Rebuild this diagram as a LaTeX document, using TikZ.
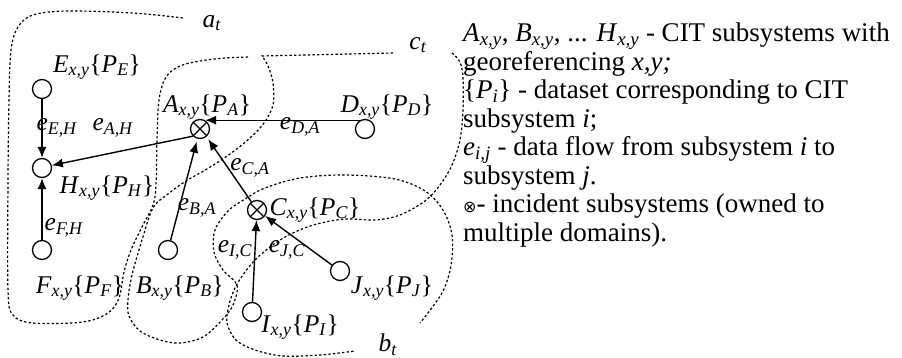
\documentclass[tikz,border=0pt]{standalone}
\usepackage{fontspec}
\setmainfont{Liberation Serif}
\newfontfamily\symbfont{DejaVu Sans}
\usetikzlibrary{arrows.meta}
\tikzset{
  subsys/.style={draw, circle, minimum size=19pt, inner sep=0pt, line width=1.3pt},
  incident/.style={subsys, path picture={
      \draw[line width=1.3pt] (path picture bounding box.north west) -- (path picture bounding box.south east)
                              (path picture bounding box.north east) -- (path picture bounding box.south west);}},
  flow/.style={-{Latex[length=11pt, width=9pt]}, line width=1.4pt},
  domline/.style={line width=1.2pt, dash pattern=on 2.4pt off 2.2pt},
  lbl/.style={inner sep=0pt, font=\fontsize{25.5}{30}\selectfont}
}
\newcommand{\sysname}[1]{\textit{#1}\textsubscript{\textit{x,y}}\{\textit{P}\textsubscript{\textit{#1}}\}}
\newcommand{\flowname}[1]{\textit{e}\textsubscript{\textit{#1}}}

\begin{document}
\begin{tikzpicture}[x=1pt, y=-1pt]
        \useasboundingbox (0,0) rectangle (902,358);

        % Domains
        \draw[domline] plot[smooth, tension=0.55] coordinates {(183,18) (133,13) (67,11) (33,15) (18,27) (11,50) (9,100) (8,180) (8,290) (13,315) (33,323) (83,322) (108,313) (119,298) (124,272) (131,250) (143,225) (153,205) (156,185) (157,140) (159,100) (166,77) (180,66) (200,61) (225,58) (250,57)};
        \draw[domline] (393,53) -- (262,56) -- plot[smooth, tension=0.55] coordinates {(262,56) (268,66) (273,83) (273,105) (264,123) (250,138) (230,154) (207,169) (186,181) (168,194) (153,208) (142,240) (132,275) (128,300) (129,316) (140,331) (160,340) (180,343) (203,337) (222,320) (233,305) (237,285) (223,270) (214,252) (215,230) (228,211) (245,199) (265,188) (300,178) (345,175) (395,179) (425,191) (443,210) (452,235) (451,265) (442,293) (420,323)};
        \draw[domline] plot[smooth, tension=0.55] coordinates {(452,53) (460,62) (463,78) (463,110) (460,140) (452,165) (440,185) (425,201) (400,215) (375,220) (345,219) (317,224) (295,232) (277,242) (258,257) (245,272) (235,288) (229,305) (227,323) (236,340) (255,350) (283,356) (320,355) (355,351)};
        \node[lbl] (at) at (212,23) {\textit{a}\textsubscript{\textit{t}}};
        \node[lbl] (ct) at (418,45) {\textit{c}\textsubscript{\textit{t}}};
        \node[lbl] (bt) at (388,345) {\textit{b}\textsubscript{\textit{t}}};

        % Subsystems
        \node[subsys]   (E) at (42,89)   {};
        \node[subsys]   (H) at (42,168)  {};
        \node[subsys]   (F) at (42,250)  {};
        \node[incident] (A) at (200,129) {};
        \node[subsys]   (D) at (365,129) {};
        \node[subsys]   (B) at (168,250) {};
        \node[incident] (C) at (257,210) {};
        \node[subsys]   (I) at (252,312) {};
        \node[subsys]   (J) at (340,271) {};

        \node[lbl] (Elbl) at (97,67)   {\sysname{E}};
        \node[lbl] (Hlbl) at (107,188) {\sysname{H}};
        \node[lbl] (Flbl) at (80,288)  {\sysname{F}};
        \node[lbl] (Albl) at (207,107) {\sysname{A}};
        \node[lbl] (Dlbl) at (387,107) {\sysname{D}};
        \node[lbl] (Blbl) at (180,288) {\sysname{B}};
        \node[lbl] (Clbl) at (315,210) {\sysname{C}};
        \node[lbl] (Jlbl) at (392,288) {\sysname{J}};
        \node[lbl] (Ilbl) at (300,327) {\sysname{I}};

        % Data flows
        \draw[flow] (E) -- (H);
        \draw[flow] (F) -- (H);
        \draw[flow] (A.225) -- (H.15);
        \draw[flow] (D.120) -- (A.60);
        \draw[flow, shorten >=3pt] (B) -- (A);
        \draw[flow, shorten >=3pt] (C) -- (A.-50);
        \draw[flow] (I) -- (C);
        \draw[flow] (J) -- (C);

        \node[lbl] (eEH) at (57,128)  {\flowname{E,H}};
        \node[lbl] (eAH) at (113,128) {\flowname{A,H}};
        \node[lbl] (eDA) at (300,127) {\flowname{D,A}};
        \node[lbl] (eCA) at (250,168) {\flowname{C,A}};
        \node[lbl] (eBA) at (197,208) {\flowname{B,A}};
        \node[lbl] (eFH) at (64,228)  {\flowname{F,H}};
        \node[lbl] (eIC) at (235,250) {\flowname{I,C}};
        \node[lbl] (eJC) at (287,250) {\flowname{J,C}};

        % Legend
        \node[anchor=north west, inner sep=0pt, align=left, font=\fontsize{27}{28.5}\selectfont] (legend) at (463,23)
          {\textit{A}\textsubscript{\textit{x,y}}, \textit{B}\textsubscript{\textit{x,y}}, ... \textit{H}\textsubscript{\textit{x,y}} - CIT subsystems with\\
           georeferencing \textit{x,y;}\\
           \{\textit{P}\textsubscript{\textit{i}}\} - dataset corresponding to CIT\\
           subsystem \textit{i};\\
           \textit{e}\textsubscript{\textit{i,j}} - data flow from subsystem \textit{i} to\\
           subsystem \textit{j}.\\
           {\symbfont\fontsize{16}{16}\selectfont ⊗}- incident subsystems (owned to\\
           multiple domains).};
    \end{tikzpicture}
\end{document}
